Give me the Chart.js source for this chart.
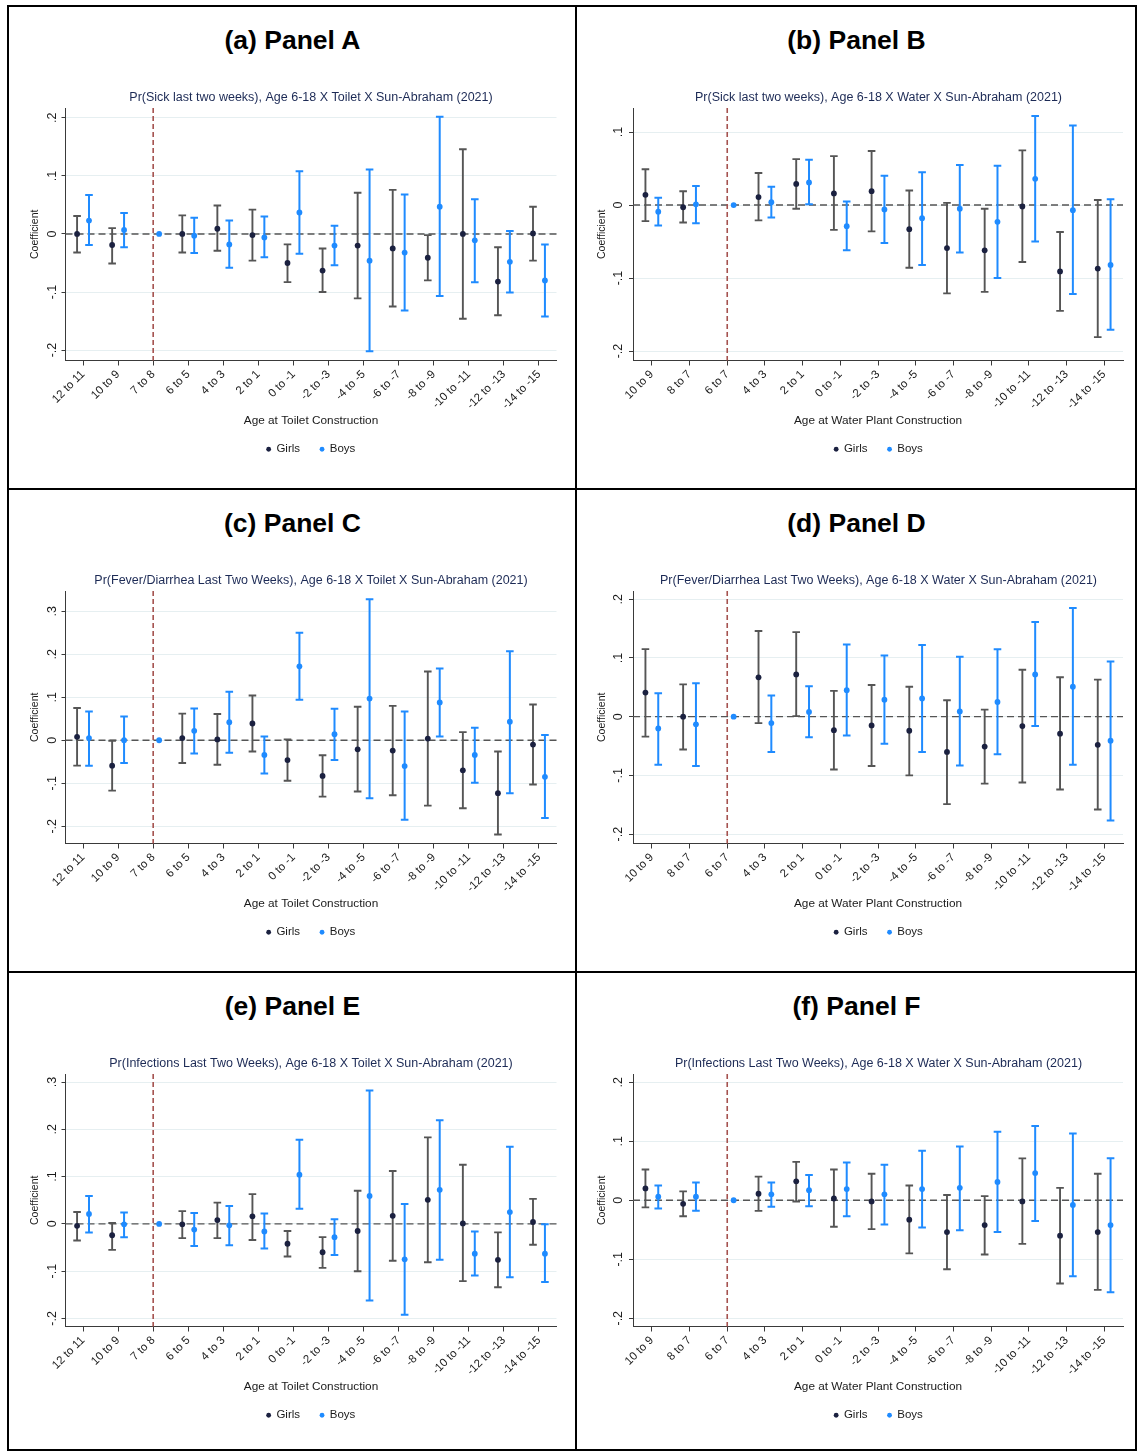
<!DOCTYPE html>
<html>
<head>
<meta charset="utf-8">
<script src="https://cdn.jsdelivr.net/npm/chart.js@4.4.1/dist/chart.umd.min.js"></script>
<style>
  html, body { margin: 0; padding: 0; background: #fff; overflow: hidden; width: 1137px; height: 1451px; }
  body { position: relative; font-family: "Liberation Sans", Arial, Helvetica, sans-serif; }
  .line { position: absolute; background: #000; z-index: 5; }
  .ptitle { position: absolute; text-align: center; font-weight: bold; font-size: 26.5px; line-height: 30px; color: #000; }
  canvas { position: absolute; }
</style>
</head>
<body>
<script>
// x categories
const toiletAges = ['12 to 11', '10 to 9', '7 to 8', '6 to 5', '4 to 3', '2 to 1', '0 to -1', '-2 to -3',
  '-4 to -5', '-6 to -7', '-8 to -9', '-10 to -11', '-12 to -13', '-14 to -15'];
const waterAges = ['10 to 9', '8 to 7', '6 to 7', '4 to 3', '2 to 1', '0 to -1', '-2 to -3',
  '-4 to -5', '-6 to -7', '-8 to -9', '-10 to -11', '-12 to -13', '-14 to -15'];

// y ticks
const yTicksA = [-0.2, -0.1, 0, 0.1, 0.2];
const yTicksB = [-0.2, -0.1, 0, 0.1];
const yTicksC = [-0.2, -0.1, 0, 0.1, 0.2, 0.3];
const yTicksD = [-0.2, -0.1, 0, 0.1, 0.2];
const yTicksE = [-0.2, -0.1, 0, 0.1, 0.2, 0.3];
const yTicksF = [-0.2, -0.1, 0, 0.1, 0.2];

// Panel A: sick, toilet
const aGirls   = [0, -0.019, null, 0, 0.009, -0.002, -0.050, -0.063, -0.020, -0.025, -0.041, 0, -0.082, 0.001];
const aGirlsLo = [-0.032, -0.051, null, -0.032, -0.029, -0.046, -0.083, -0.100, -0.111, -0.125, -0.080, -0.146, -0.140, -0.046];
const aGirlsHi = [0.031, 0.010, null, 0.032, 0.049, 0.042, -0.018, -0.025, 0.071, 0.076, -0.002, 0.146, -0.023, 0.047];
const aBoys    = [0.023, 0.007, 0, -0.003, -0.018, -0.006, 0.037, -0.020, -0.046, -0.032, 0.047, -0.011, -0.048, -0.080];
const aBoysLo  = [-0.019, -0.023, null, -0.033, -0.058, -0.040, -0.034, -0.054, -0.202, -0.132, -0.107, -0.083, -0.101, -0.142];
const aBoysHi  = [0.067, 0.036, null, 0.028, 0.023, 0.030, 0.108, 0.014, 0.111, 0.068, 0.202, 0.060, 0.005, -0.018];

// Panel B: sick, water
const bGirls   = [0.014, -0.003, null, 0.011, 0.029, 0.016, 0.019, -0.033, -0.059, -0.062, -0.002, -0.091, -0.087];
const bGirlsLo = [-0.022, -0.024, null, -0.021, -0.005, -0.034, -0.036, -0.086, -0.121, -0.119, -0.078, -0.145, -0.181];
const bGirlsHi = [0.049, 0.019, null, 0.044, 0.063, 0.067, 0.074, 0.020, 0.003, -0.005, 0.075, -0.037, 0.007];
const bBoys    = [-0.009, 0.001, 0, 0.004, 0.031, -0.029, -0.006, -0.018, -0.005, -0.023, 0.036, -0.007, -0.082];
const bBoysLo  = [-0.028, -0.025, null, -0.017, 0.001, -0.062, -0.052, -0.082, -0.065, -0.100, -0.050, -0.122, -0.171];
const bBoysHi  = [0.010, 0.026, null, 0.025, 0.062, 0.005, 0.040, 0.045, 0.055, 0.054, 0.122, 0.109, 0.008];

// Panel C: fever/diarrhea, toilet
const cGirls   = [0.008, -0.059, null, 0.005, 0.002, 0.039, -0.046, -0.083, -0.021, -0.024, 0.004, -0.070, -0.123, -0.010];
const cGirlsLo = [-0.059, -0.117, null, -0.053, -0.057, -0.026, -0.094, -0.131, -0.119, -0.128, -0.152, -0.158, -0.219, -0.103];
const cGirlsHi = [0.075, -0.001, null, 0.062, 0.061, 0.104, 0.002, -0.035, 0.078, 0.080, 0.160, 0.019, -0.026, 0.083];
const cBoys    = [0.005, 0, 0, 0.022, 0.042, -0.034, 0.172, 0.014, 0.097, -0.060, 0.088, -0.034, 0.043, -0.085];
const cBoysLo  = [-0.059, -0.053, null, -0.031, -0.029, -0.077, 0.094, -0.046, -0.135, -0.185, 0.009, -0.099, -0.123, -0.181];
const cBoysHi  = [0.067, 0.055, null, 0.074, 0.113, 0.009, 0.250, 0.073, 0.328, 0.067, 0.167, 0.029, 0.207, 0.012];

// Panel D: fever/diarrhea, water
const dGirls   = [0.041, 0, null, 0.067, 0.072, -0.023, -0.015, -0.024, -0.060, -0.051, -0.016, -0.029, -0.048];
const dGirlsLo = [-0.034, -0.056, null, -0.011, 0.001, -0.090, -0.084, -0.100, -0.149, -0.114, -0.112, -0.124, -0.158];
const dGirlsHi = [0.115, 0.055, null, 0.146, 0.144, 0.044, 0.054, 0.051, 0.028, 0.012, 0.080, 0.067, 0.063];
const dBoys    = [-0.020, -0.013, 0, -0.011, 0.008, 0.045, 0.029, 0.031, 0.009, 0.025, 0.072, 0.051, -0.041];
const dBoysLo  = [-0.082, -0.084, null, -0.060, -0.035, -0.032, -0.046, -0.060, -0.083, -0.064, -0.016, -0.082, -0.177];
const dBoysHi  = [0.040, 0.057, null, 0.036, 0.052, 0.123, 0.104, 0.122, 0.102, 0.115, 0.161, 0.185, 0.094];

// Panel E: infections, toilet
const eGirls   = [-0.004, -0.024, null, -0.001, 0.008, 0.016, -0.042, -0.060, -0.015, 0.017, 0.051, 0.001, -0.076, 0.004];
const eGirlsLo = [-0.035, -0.055, null, -0.030, -0.030, -0.034, -0.069, -0.093, -0.100, -0.078, -0.081, -0.121, -0.134, -0.044];
const eGirlsHi = [0.025, 0.002, null, 0.027, 0.045, 0.063, -0.015, -0.028, 0.070, 0.112, 0.183, 0.125, -0.018, 0.053];
const eBoys    = [0.021, -0.001, 0, -0.012, -0.003, -0.016, 0.104, -0.028, 0.059, -0.075, 0.072, -0.063, 0.025, -0.063];
const eBoysLo  = [-0.018, -0.028, null, -0.047, -0.045, -0.052, 0.032, -0.066, -0.162, -0.192, -0.076, -0.109, -0.113, -0.123];
const eBoysHi  = [0.059, 0.024, null, 0.023, 0.038, 0.022, 0.178, 0.010, 0.282, 0.042, 0.219, -0.016, 0.163, -0.001];

// Panel F: infections, water
const fGirls   = [0.020, -0.006, null, 0.011, 0.032, 0.003, -0.002, -0.033, -0.054, -0.042, -0.002, -0.060, -0.054];
const fGirlsLo = [-0.012, -0.027, null, -0.018, -0.002, -0.045, -0.049, -0.090, -0.117, -0.092, -0.074, -0.141, -0.152];
const fGirlsHi = [0.052, 0.015, null, 0.040, 0.065, 0.052, 0.045, 0.025, 0.009, 0.007, 0.071, 0.021, 0.045];
const fBoys    = [0.006, 0.006, 0, 0.010, 0.017, 0.019, 0.010, 0.019, 0.021, 0.031, 0.046, -0.008, -0.042];
const fBoysLo  = [-0.014, -0.018, null, -0.011, -0.010, -0.027, -0.041, -0.046, -0.051, -0.054, -0.035, -0.129, -0.156];
const fBoysHi  = [0.025, 0.030, null, 0.030, 0.043, 0.064, 0.060, 0.084, 0.091, 0.116, 0.126, 0.113, 0.071];

const FONT = '"Liberation Sans", Arial, Helvetica, sans-serif';
const GIRL_DOT = '#1b2140';
const GIRL_BAR = '#555555';
const BOY_COLOR = '#1f8bff';
const OFFSET = 0.17;

const panels = [
  { tag: '(a) Panel A', sub: 'Pr(Sick last two weeks), Age 6-18 X Toilet X Sun-Abraham (2021)', cats: toiletAges, xTitle: 'Age at Toilet Construction',
    g: aGirls, gLo: aGirlsLo, gHi: aGirlsHi, b: aBoys, bLo: aBoysLo, bHi: aBoysHi, yTicks: yTicksA, yMin: -0.218, yMax: 0.217, col: 0, row: 0 },
  { tag: '(b) Panel B', sub: 'Pr(Sick last two weeks), Age 6-18 X Water X Sun-Abraham (2021)', cats: waterAges, xTitle: 'Age at Water Plant Construction',
    g: bGirls, gLo: bGirlsLo, gHi: bGirlsHi, b: bBoys, bLo: bBoysLo, bHi: bBoysHi, yTicks: yTicksB, yMin: -0.213, yMax: 0.133, col: 1, row: 0 },
  { tag: '(c) Panel C', sub: 'Pr(Fever/Diarrhea Last Two Weeks), Age 6-18 X Toilet X Sun-Abraham (2021)', cats: toiletAges, xTitle: 'Age at Toilet Construction',
    g: cGirls, gLo: cGirlsLo, gHi: cGirlsHi, b: cBoys, bLo: cBoysLo, bHi: cBoysHi, yTicks: yTicksC, yMin: -0.240, yMax: 0.347, col: 0, row: 1 },
  { tag: '(d) Panel D', sub: 'Pr(Fever/Diarrhea Last Two Weeks), Age 6-18 X Water X Sun-Abraham (2021)', cats: waterAges, xTitle: 'Age at Water Plant Construction',
    g: dGirls, gLo: dGirlsLo, gHi: dGirlsHi, b: dBoys, bLo: dBoysLo, bHi: dBoysHi, yTicks: yTicksD, yMin: -0.216, yMax: 0.214, col: 1, row: 1 },
  { tag: '(e) Panel E', sub: 'Pr(Infections Last Two Weeks), Age 6-18 X Toilet X Sun-Abraham (2021)', cats: toiletAges, xTitle: 'Age at Toilet Construction',
    g: eGirls, gLo: eGirlsLo, gHi: eGirlsHi, b: eBoys, bLo: eBoysLo, bHi: eBoysHi, yTicks: yTicksE, yMin: -0.217, yMax: 0.317, col: 0, row: 2 },
  { tag: '(f) Panel F', sub: 'Pr(Infections Last Two Weeks), Age 6-18 X Water X Sun-Abraham (2021)', cats: waterAges, xTitle: 'Age at Water Plant Construction',
    g: fGirls, gLo: fGirlsLo, gHi: fGirlsHi, b: fBoys, bLo: fBoysLo, bHi: fBoysHi, yTicks: yTicksF, yMin: -0.214, yMax: 0.214, col: 1, row: 2 },
];

// cell geometry, per column
const colLeft = [9, 577], colRight = [576, 1136];
const canvasW = [604, 603];
const yAxisW = [56.5, 56];
const rightGap = [56.5, 57];
const yTickPad = [1.5, 3];
const rowTop = [7, 490, 973];

function addLine(x, y, w, h) {
  const d = document.createElement('div');
  d.className = 'line';
  Object.assign(d.style, { left: x + 'px', top: y + 'px', width: w + 'px', height: h + 'px' });
  document.body.appendChild(d);
}
addLine(7, 5, 1130, 2);
addLine(7, 488, 1130, 2);
addLine(7, 971, 1130, 2);
addLine(7, 1449, 1130, 2);
addLine(7, 5, 2, 1446);
addLine(575, 5, 2, 1446);
addLine(1135, 5, 2, 1446);

// whiskers, zero line and the reference-period line
const errorBars = {
  id: 'errorBars',
  beforeDatasetsDraw(chart, args, opts) {
    const { ctx, chartArea: area, scales: { x, y } } = chart;
    ctx.save();
    const y0 = y.getPixelForValue(0);
    ctx.strokeStyle = '#555555';
    ctx.lineWidth = 1.4;
    ctx.setLineDash([7, 4]);
    ctx.beginPath(); ctx.moveTo(area.left, y0); ctx.lineTo(area.right, y0); ctx.stroke();

    const xr = x.getPixelForValue(opts.refIndex);
    ctx.strokeStyle = '#a5524f';
    ctx.lineWidth = 1.6;
    ctx.setLineDash([5, 3]);
    ctx.beginPath(); ctx.moveTo(xr, area.top); ctx.lineTo(xr, area.bottom); ctx.stroke();
    ctx.setLineDash([]);

    chart.data.datasets.forEach(ds => {
      ctx.strokeStyle = ds.barColor;
      ctx.lineWidth = ds.barWidth;
      ds.data.forEach(p => {
        if (p.lo == null) return;
        const px = x.getPixelForValue(p.x);
        const pl = y.getPixelForValue(p.lo), ph = y.getPixelForValue(p.hi);
        ctx.beginPath();
        ctx.moveTo(px, pl); ctx.lineTo(px, ph);
        ctx.moveTo(px - 3.8, pl); ctx.lineTo(px + 3.8, pl);
        ctx.moveTo(px - 3.8, ph); ctx.lineTo(px + 3.8, ph);
        ctx.stroke();
      });
    });
    ctx.restore();
  }
};

const fmt = v => {
  if (Math.abs(v) < 1e-9) return '0';
  return (v < 0 ? '-' : '') + '.' + Math.round(Math.abs(v) * 10);
};

function points(vals, lo, hi, shift) {
  const out = [];
  vals.forEach((v, i) => {
    if (v == null) return;
    out.push({ x: i + shift, y: v, lo: lo[i], hi: hi[i] });
  });
  return out;
}

panels.forEach(p => {
  const c = p.col;
  const left = colLeft[c], top = rowTop[p.row];
  const h = document.createElement('div');
  h.className = 'ptitle';
  h.textContent = p.tag;
  Object.assign(h.style, { left: left + 'px', top: (top + 18) + 'px', width: (colRight[c] - left) + 'px' });
  document.body.appendChild(h);

  const cv = document.createElement('canvas');
  const W = canvasW[c], H = 390;
  cv.width = W; cv.height = H;
  Object.assign(cv.style, { left: left + 'px', top: (top + 73) + 'px', width: W + 'px', height: H + 'px' });
  document.body.appendChild(cv);

  const refIndex = p.cats.indexOf(c === 0 ? '7 to 8' : '6 to 7');

  new Chart(cv, {
    type: 'scatter',
    data: {
      datasets: [
        { label: 'Girls', data: points(p.g, p.gLo, p.gHi, -OFFSET), backgroundColor: GIRL_DOT, borderColor: GIRL_DOT,
          pointRadius: 2.9, pointBorderWidth: 0, barColor: GIRL_BAR, barWidth: 1.9 },
        { label: 'Boys', data: points(p.b, p.bLo, p.bHi, OFFSET), backgroundColor: BOY_COLOR, borderColor: BOY_COLOR,
          pointRadius: 2.9, pointBorderWidth: 0, barColor: BOY_COLOR, barWidth: 2 },
      ]
    },
    options: {
      responsive: false,
      animation: false,
      events: [],
      layout: { padding: { left: 0, right: 0, top: 0, bottom: 5 } },
      font: { family: FONT },
      scales: {
        x: {
          type: 'linear', position: 'bottom',
          min: -0.5, max: p.cats.length - 0.5,
          afterBuildTicks: s => { s.ticks = p.cats.map((cat, i) => ({ value: i })); },
          // tall enough that the rotated labels are not clipped
          afterFit: s => { s.height = 63; },
          ticks: {
            autoSkip: false, minRotation: 45, maxRotation: 45, padding: 2,
            color: '#1a1a1a', font: { family: FONT, size: 11.5 },
            callback: v => p.cats[Math.round(v)]
          },
          grid: { drawOnChartArea: false, tickLength: 5, tickColor: '#3a3a3a', tickWidth: 1 },
          border: { color: '#3a3a3a', width: 1 },
          title: { display: true, text: p.xTitle, color: '#1a1a1a', font: { family: FONT, size: 11.8 },
                   padding: { top: 0, bottom: -4 } }
        },
        y: {
          type: 'linear', position: 'left',
          min: p.yMin, max: p.yMax,
          afterBuildTicks: s => { s.ticks = p.yTicks.map(v => ({ value: v })); },
          afterFit: s => { s.width = yAxisW[c]; },
          ticks: {
            minRotation: 90, maxRotation: 90, crossAlign: 'center', padding: yTickPad[c],
            color: '#1a1a1a', font: { family: FONT, size: 12.5 },
            callback: v => fmt(v)
          },
          grid: { color: '#e6eff1', lineWidth: 1, tickLength: 4, tickColor: '#3a3a3a' },
          border: { color: '#3a3a3a', width: 1 },
          title: { display: true, text: 'Coefficient', color: '#1a1a1a', font: { family: FONT, size: 10.5 },
                   padding: { top: c === 0 ? 20 : 19, bottom: 0 } }
        },
        yr: {
          type: 'linear', position: 'right', display: true,
          afterFit: s => { s.width = rightGap[c]; },
          ticks: { display: false },
          grid: { display: false, drawTicks: false },
          border: { display: false }
        }
      },
      plugins: {
        tooltip: { enabled: false },
        title: {
          display: true, text: p.sub, color: '#1c2a55',
          font: { family: FONT, size: 12.5, weight: 'normal' },
          padding: { top: 10, bottom: 3 }
        },
        legend: {
          position: 'bottom',
          labels: {
            usePointStyle: true, pointStyle: 'circle', boxWidth: 4, boxHeight: 3.4,
            padding: 20, color: '#1a1a1a', font: { family: FONT, size: 11.5 }
          }
        },
        errorBars: { refIndex: refIndex }
      }
    },
    plugins: [errorBars]
  });
});
</script>
</body>
</html>
